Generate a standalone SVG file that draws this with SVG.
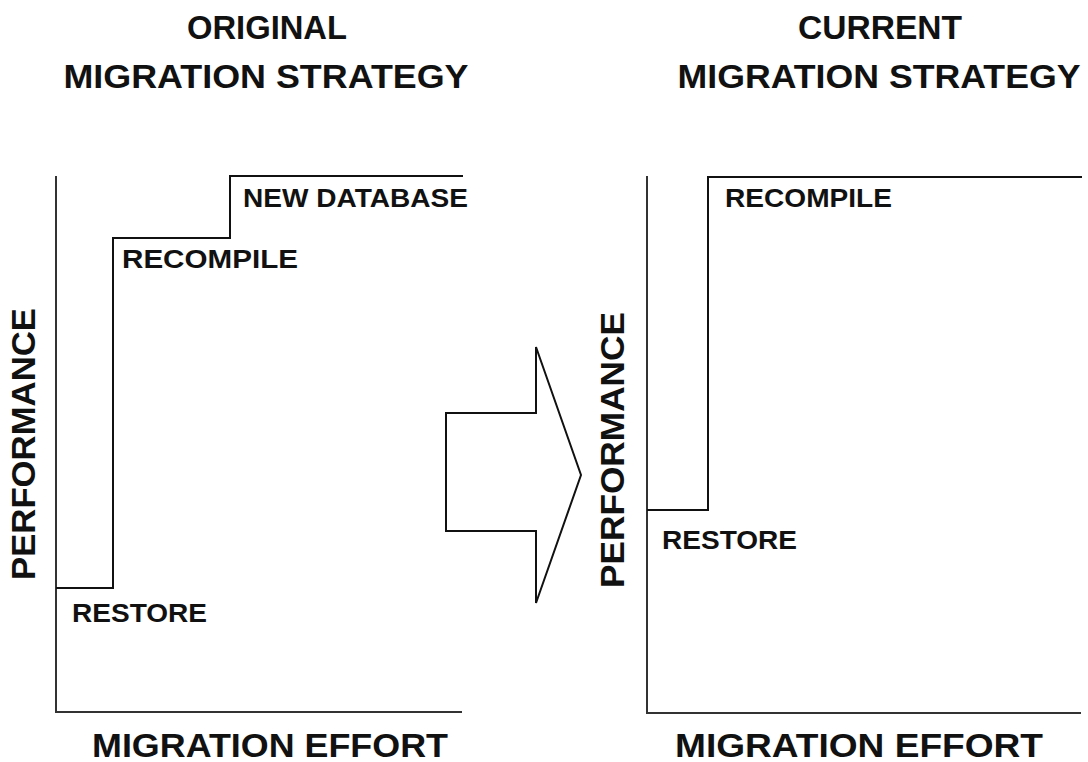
<svg xmlns="http://www.w3.org/2000/svg" width="1088" height="762" viewBox="0 0 1088 762">
<style>
text{font-family:"Liberation Sans",Arial,sans-serif;font-weight:bold;fill:#111}
.title{font-size:34px;text-anchor:middle}
.axis-label{font-size:34px;text-anchor:middle}
.step-label{font-size:26px}
.axis{fill:none;stroke:#333;stroke-width:2}
.step{fill:none;stroke:#111;stroke-width:2}
.arrow{fill:#fff;stroke:#111;stroke-width:2;stroke-linejoin:miter}
</style>
<rect width="1088" height="762" fill="#fff"/>
<g id="left-chart">
  <text class="title" x="267" y="39" textLength="160" lengthAdjust="spacingAndGlyphs">ORIGINAL</text>
  <text class="title" x="266" y="88" textLength="405" lengthAdjust="spacingAndGlyphs">MIGRATION STRATEGY</text>
  <path class="axis" d="M56,176 V712 H462"/>
  <path class="step" d="M56,588 H113 V238 H230 V176 H463"/>
  <text class="step-label" x="243" y="207" textLength="225" lengthAdjust="spacingAndGlyphs">NEW DATABASE</text>
  <text class="step-label" x="122" y="268" textLength="176" lengthAdjust="spacingAndGlyphs">RECOMPILE</text>
  <text class="step-label" x="72" y="622" textLength="135" lengthAdjust="spacingAndGlyphs">RESTORE</text>
  <text class="axis-label" transform="translate(35,444) rotate(-90)" textLength="272" lengthAdjust="spacingAndGlyphs">PERFORMANCE</text>
  <text class="axis-label" x="270" y="757" textLength="356" lengthAdjust="spacingAndGlyphs">MIGRATION EFFORT</text>
</g>
<g id="transition-arrow">
  <path class="arrow" d="M446,413 H536 V347 L581,475 L536,603 V531 H446 Z"/>
</g>
<g id="right-chart">
  <text class="title" x="880" y="39" textLength="164" lengthAdjust="spacingAndGlyphs">CURRENT</text>
  <text class="title" x="879" y="88" textLength="403" lengthAdjust="spacingAndGlyphs">MIGRATION STRATEGY</text>
  <path class="axis" d="M647,176 V713 H1081"/>
  <path class="step" d="M647,510 H708 V177 H1082"/>
  <text class="step-label" x="725" y="207" textLength="167" lengthAdjust="spacingAndGlyphs">RECOMPILE</text>
  <text class="step-label" x="662" y="549" textLength="135" lengthAdjust="spacingAndGlyphs">RESTORE</text>
  <text class="axis-label" transform="translate(624,450) rotate(-90)" textLength="276" lengthAdjust="spacingAndGlyphs">PERFORMANCE</text>
  <text class="axis-label" x="859" y="757" textLength="368" lengthAdjust="spacingAndGlyphs">MIGRATION EFFORT</text>
</g>
</svg>
